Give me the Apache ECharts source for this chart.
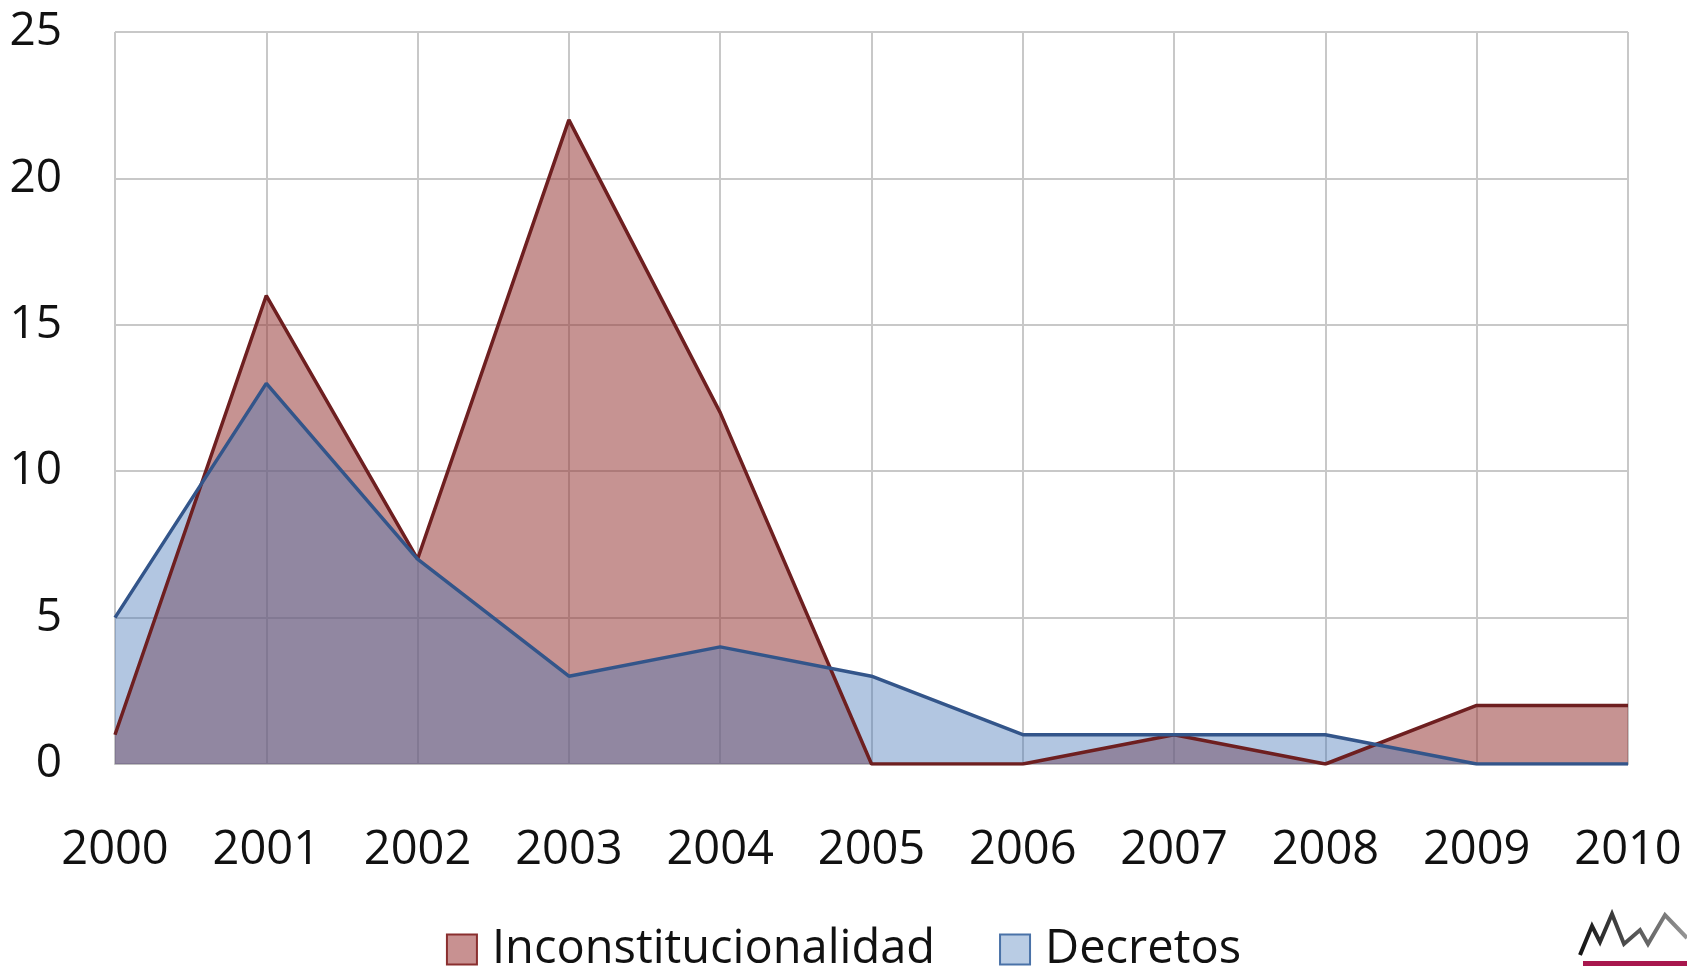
<!DOCTYPE html>
<html><head><meta charset="utf-8">
<script src="https://cdn.jsdelivr.net/npm/echarts@6/dist/echarts.min.js"></script>
<style>html,body{margin:0;padding:0;background:#fff}#c{width:1687px;height:966px}</style>
</head><body><div id="c"></div>
<script>
const years = ['2000','2001','2002','2003','2004','2005','2006','2007','2008','2009','2010'];
const inconstitucionalidad = [1, 16, 7, 22, 12, 0, 0, 1, 0, 2, 2];
const decretos = [5, 13, 7, 3, 4, 3, 1, 1, 1, 0, 0];
const seriesNames = ['Inconstitucionalidad', 'Decretos'];
const yTicks = [0, 5, 10, 15, 20, 25];

const FONT = '"Open Sans", sans-serif';
const chart = echarts.init(document.getElementById('c'));
chart.setOption({
  animation: false,
  backgroundColor: '#fff',
  grid: { left: 115, right: 59, top: 32, bottom: 202, containLabel: false },
  legend: {
    data: seriesNames,
    bottom: -12,
    left: 'center',
    icon: 'rect',
    itemWidth: 30,
    itemHeight: 30,
    itemGap: 64,
    textStyle: { fontFamily: FONT, fontSize: 47, color: '#111', padding: [0, 0, 0, 10] }
  },
  xAxis: {
    type: 'category',
    data: years,
    boundaryGap: false,
    axisLine: { show: true, lineStyle: { color: '#bfbfbf', width: 2 } },
    axisTick: { show: false },
    axisLabel: { fontFamily: FONT, fontSize: 47, color: '#111', margin: 63, showMinLabel: true, showMaxLabel: true, interval: 0 },
    splitLine: { show: true, lineStyle: { color: '#c8c8c8', width: 2 } }
  },
  yAxis: {
    type: 'value',
    min: yTicks[0],
    max: yTicks[yTicks.length - 1],
    interval: 5,
    axisLine: { show: false },
    axisTick: { show: false },
    axisLabel: { fontFamily: FONT, fontSize: 46, color: '#111', margin: 53 },
    splitLine: { show: true, lineStyle: { color: '#c8c8c8', width: 2 } }
  },
  series: [
    {
      name: seriesNames[0],
      type: 'line',
      data: inconstitucionalidad,
      symbol: 'none',
      lineStyle: { color: '#6e1f20', width: 3.5 },
      itemStyle: { color: '#c89191', borderColor: '#8a2f2f', borderWidth: 3 },
      areaStyle: { color: 'rgba(150,55,53,0.54)', opacity: 1 }
    },
    {
      name: seriesNames[1],
      type: 'line',
      data: decretos,
      symbol: 'none',
      lineStyle: { color: '#33558a', width: 3.5 },
      itemStyle: { color: '#b9cce4', borderColor: '#4a72a8', borderWidth: 3 },
      areaStyle: { color: 'rgba(72,120,184,0.42)', opacity: 1 }
    }
  ],
  graphic: [
    {
      type: 'polyline',
      shape: { points: [[1580, 955], [1592, 926], [1600, 942], [1612, 914], [1624, 944], [1640, 930], [1648, 944], [1665, 915], [1687, 938]] },
      style: {
        fill: null, lineWidth: 4,
        stroke: new echarts.graphic.LinearGradient(0, 0, 1, 0, [{ offset: 0, color: '#111' }, { offset: 1, color: '#999' }])
      }
    },
    { type: 'rect', shape: { x: 1583, y: 961, width: 104, height: 5 }, style: { fill: '#a8174d' } }
  ]
});
</script></body></html>
